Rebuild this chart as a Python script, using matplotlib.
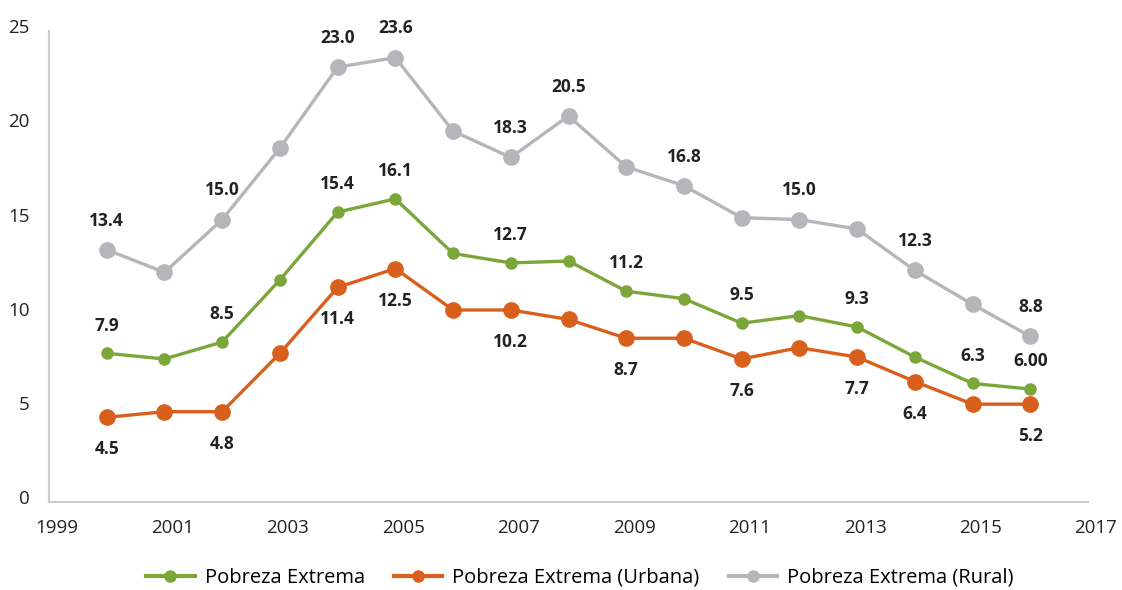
import matplotlib
matplotlib.use('Agg')
import matplotlib.pyplot as plt
from matplotlib.transforms import ScaledTranslation

plt.rcParams['font.family'] = ['Open Sans', 'DejaVu Sans']

years = list(range(2000, 2017))

# Pobreza extrema, %
total = [7.9, 7.6, 8.5, 11.8, 15.4, 16.1, 13.2, 12.7, 12.8, 11.2, 10.8,
         9.5, 9.9, 9.3, 7.7, 6.3, 6.0]
urbana = [4.5, 4.8, 4.8, 7.9, 11.4, 12.4, 10.2, 10.2, 9.7, 8.7, 8.7,
          7.6, 8.2, 7.7, 6.4, 5.2, 5.2]
rural = [13.4, 12.2, 15.0, 18.8, 23.1, 23.6, 19.7, 18.3, 20.5, 17.8, 16.8,
         15.1, 15.0, 14.5, 12.3, 10.5, 8.8]

# annotated points: year -> text
total_labels = {2000: '7.9', 2002: '8.5', 2004: '15.4', 2005: '16.1',
                2007: '12.7', 2009: '11.2', 2011: '9.5', 2013: '9.3',
                2015: '6.3', 2016: '6.00'}
urbana_labels = {2000: '4.5', 2002: '4.8', 2004: '11.4', 2005: '12.5',
                 2007: '10.2', 2009: '8.7', 2011: '7.6', 2013: '7.7',
                 2014: '6.4', 2016: '5.2'}
rural_labels = {2000: '13.4', 2002: '15.0', 2004: '23.0', 2005: '23.6',
                2007: '18.3', 2008: '20.5', 2010: '16.8', 2012: '15.0',
                2014: '12.3', 2016: '8.8'}

green = '#7aa63a'
orange = '#d9601c'
grey = '#b5b6ba'

fig = plt.figure(figsize=(11.22, 5.9), dpi=100)
ax = fig.add_axes([0.0437, 0.149, 0.926, 0.798])

ax.plot(years, total, color=green, lw=2.4, marker='o', ms=8,
        label='Pobreza Extrema', zorder=3)
ax.plot(years, urbana, color=orange, lw=2.4, marker='o', ms=11,
        label='Pobreza Extrema (Urbana)', zorder=3)
ax.plot(years, rural, color=grey, lw=2.4, marker='o', ms=11,
        label='Pobreza Extrema (Rural)', zorder=3)


def annotate(values, labels, dy):
    for yr, txt in labels.items():
        ax.annotate(txt, (yr, values[years.index(yr)]), xytext=(0, dy),
                    textcoords='offset points', ha='center', va='center',
                    fontsize=12.5, fontweight='bold', color='#222222')


annotate(rural, rural_labels, 21)
annotate(total, total_labels, 20)
annotate(urbana, urbana_labels, -23)

ax.set_xlim(1999, 2017)
ax.set_ylim(0, 25)
ax.set_xticks(range(1999, 2018, 2))
ax.set_yticks(range(0, 26, 5))

for side in ['top', 'right']:
    ax.spines[side].set_visible(False)
for side in ['left', 'bottom']:
    ax.spines[side].set_color('#cccccc')
    ax.spines[side].set_linewidth(1.5)

ax.tick_params(length=0, labelsize=13.5, colors='#222222')
ax.tick_params(axis='x', pad=12)
ax.tick_params(axis='y', pad=14)

for lab in ax.get_xticklabels():
    lab.set_transform(lab.get_transform()
                      + ScaledTranslation(0.08, 0, fig.dpi_scale_trans))
for lab in ax.get_yticklabels():
    lab.set_transform(lab.get_transform()
                      + ScaledTranslation(0, 0.05, fig.dpi_scale_trans))

leg = fig.legend(loc='center', bbox_to_anchor=(0.517, 0.021), ncol=3,
                 frameon=False, fontsize=14.5, handlelength=2.4,
                 handletextpad=0.5, columnspacing=1.45)
for h in leg.legend_handles:
    h.set_markersize(8)
    h.set_linewidth(3)

fig.savefig('out.png', dpi=100)
